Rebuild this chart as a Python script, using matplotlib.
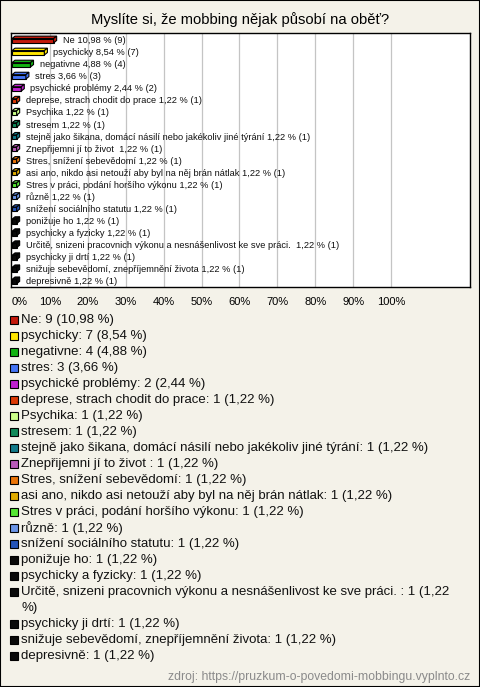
import textwrap

import matplotlib.pyplot as plt
from matplotlib.patches import Polygon, Rectangle

plt.rcParams["font.family"] = ["Liberation Sans", "DejaVu Sans"]

title = "Myslíte si, že mobbing nějak působí na oběť?"
source = "zdroj: https://pruzkum-o-povedomi-mobbingu.vyplnto.cz"

answers = [
    "Ne",
    "psychicky",
    "negativne",
    "stres",
    "psychické problémy",
    "deprese, strach chodit do prace",
    "Psychika",
    "stresem",
    "stejně jako šikana, domácí násilí nebo jakékoliv jiné týrání",
    "Znepřijemni jí to život ",
    "Stres, snížení sebevědomí",
    "asi ano, nikdo asi netouží aby byl na něj brán nátlak",
    "Stres v práci, podání horšího výkonu",
    "různě",
    "snížení sociálního statutu",
    "ponižuje ho",
    "psychicky a fyzicky",
    "Určitě, snizeni pracovnich výkonu a nesnášenlivost ke sve práci. ",
    "psychicky ji drtí",
    "snižuje sebevědomí, znepříjemnění života",
    "depresivně",
]
counts = [9, 7, 4, 3, 2] + [1] * 16
percents = [10.98, 8.54, 4.88, 3.66, 2.44] + [1.22] * 16
colors = [
    "#c41a0c", "#ffe600", "#12b312", "#4474f4", "#c020d0",
    "#dc3a06", "#ccff88", "#118a5a", "#127a8a", "#b85ab8",
    "#ea7408", "#e0ac00", "#55e633", "#6a94e6", "#2454b8",
] + ["#0a0a0a"] * 6
ticks = list(range(0, 101, 10))


def pct(v):
    return f"{v:.2f}".replace(".", ",")


W, H = 480, 687
fig = plt.figure(figsize=(W / 100, H / 100), dpi=100)
fig.patch.set_facecolor("#f4f2e9")
fig.add_artist(Rectangle((0, 0), 1, 1, transform=fig.transFigure,
                         fill=False, edgecolor="black", linewidth=1.5))

fig.text(0.5, 1 - 20 / H, title, ha="center", va="center", fontsize=10.6)

# plot box in pixel coordinates of the reference
ax = fig.add_axes([11 / W, 1 - 287 / H, 459 / W, 254 / H])
ax.set_facecolor("white")
px = 100 / 379
ax.set_xlim(-1 * px, 458 * px)
ax.set_ylim(len(answers) - 0.55, -0.64)

for t in ticks[1:]:
    ax.axvline(t, color="#c4c4c4", linewidth=0.9, zorder=0)

ypos = list(range(len(answers)))
bh = 0.36
ax.barh(ypos, percents, height=bh, color=colors, edgecolor="black",
        linewidth=0.8, zorder=3)

# fake 3D top and end faces
dx, dy = 0.8, 0.2
for y, v, c in zip(ypos, percents, colors):
    top = [(0, y - bh / 2), (dx, y - bh / 2 - dy),
           (v + dx, y - bh / 2 - dy), (v, y - bh / 2)]
    side = [(v, y - bh / 2), (v + dx, y - bh / 2 - dy),
            (v + dx, y + bh / 2 - dy), (v, y + bh / 2)]
    ax.add_patch(Polygon(top, closed=True, facecolor=c, edgecolor="black",
                         linewidth=0.8, zorder=3))
    ax.add_patch(Polygon(side, closed=True, facecolor=c, edgecolor="black",
                         linewidth=0.8, zorder=3))

for y, name, v, n in zip(ypos, answers, percents, counts):
    label = f"{name} {pct(v)} % ({n})"
    ax.text(v + 2.4, y, label, va="center", ha="left", fontsize=6.7,
            color="#111111", zorder=4)

ax.set_xticks(ticks)
ax.set_xticklabels([f"{t}%" for t in ticks], fontsize=8)
ax.get_xticklabels()[0].set_horizontalalignment("left")
ax.tick_params(axis="x", length=0, pad=7)
ax.set_yticks([])
for s in ax.spines.values():
    s.set_color("black")
    s.set_linewidth(1)

# legend list below the chart
y0 = 320
step = 16
row = 0
for name, n, v, c in zip(answers, counts, percents, colors):
    text = f"{name}: {n} ({pct(v)} %)"
    lines = textwrap.wrap(text, width=75)
    yc = y0 + row * step
    fig.add_artist(Rectangle((10 / W, 1 - (yc + 4) / H), 8 / W, 8 / H,
                             transform=fig.transFigure, facecolor=c,
                             edgecolor="black", linewidth=0.8))
    for i, line in enumerate(lines):
        fig.text(21 / W, 1 - (yc + i * step) / H, line, ha="left",
                 va="center", fontsize=9.5, color="#111111")
    row += len(lines)

fig.text(470 / W, 1 - 677 / H, source, ha="right", va="center",
         fontsize=8.8, color="#8a8a8a")

fig.savefig("out.png", dpi=100, facecolor=fig.get_facecolor())
